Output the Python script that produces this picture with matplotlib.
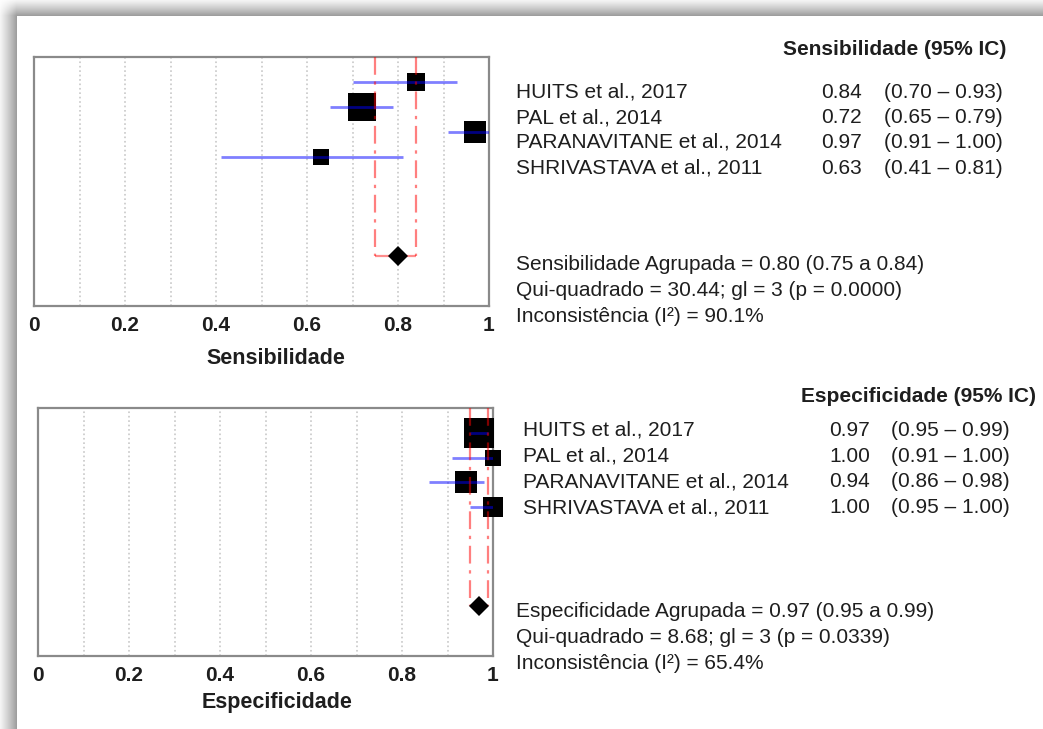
import numpy as np
import matplotlib
matplotlib.use('Agg')
import matplotlib.pyplot as plt

plt.rcParams['font.family'] = ['Liberation Sans', 'DejaVu Sans']

W, H = 1043, 729

estudos = ['HUITS et al., 2017', 'PAL et al., 2014',
           'PARANAVITANE et al., 2014', 'SHRIVASTAVA et al., 2011']

# sensibilidade por estudo (IC 95%) e tamanho relativo do quadrado (peso)
sens = [0.84, 0.72, 0.97, 0.63]
sens_lo = [0.70, 0.65, 0.91, 0.41]
sens_hi = [0.93, 0.79, 1.00, 0.81]
sens_peso = [19, 29, 23, 17]
sens_pool, sens_pool_lo, sens_pool_hi = 0.80, 0.75, 0.84
sens_chi, sens_gl, sens_p, sens_i2 = 30.44, 3, 0.0000, 90.1

# especificidade por estudo
espec = [0.97, 1.00, 0.94, 1.00]
espec_lo = [0.95, 0.91, 0.86, 0.95]
espec_hi = [0.99, 1.00, 0.98, 1.00]
espec_peso = [30, 17, 22, 21]
espec_pool, espec_pool_lo, espec_pool_hi = 0.97, 0.95, 0.99
espec_chi, espec_gl, espec_p, espec_i2 = 8.68, 3, 0.0339, 65.4

xticks = [0, 0.2, 0.4, 0.6, 0.8, 1]
xticklabels = ['0', '0.2', '0.4', '0.6', '0.8', '1']

TXT = '#1e1e1e'
FS = 15


def fx(px):
    return px / W


def fy(py):
    return 1 - py / H


fig = plt.figure(figsize=(W / 100, H / 100), dpi=100)

# sombra cinza da moldura (esquerda e topo)
xx = np.arange(W)[None, :]
yy = np.arange(H)[:, None]
cx = np.clip((xx + 3) / 19.0, 0, 1) ** 1.2
cy = np.clip((yy + 3) / 18.0, 0, 1) ** 1.2
dark = 0.38 * cx * cy
pagina = (xx >= 17) & (yy >= 16)
g = np.where(pagina, 1.0, 1 - dark)
img = np.dstack([g, g, g])
fig.figimage(img, xo=0, yo=0, origin='upper', zorder=-10)


def forest(rect, est, lo, hi, peso, pool, plo, phi, xlabel, lab_xy):
    ax = fig.add_axes(rect)
    ax.set_facecolor('white')
    rows = np.arange(len(est))
    ax.set_xlim(0, 1)
    ax.set_ylim(9, -1)
    ax.set_xticks(xticks)
    ax.set_xticklabels(xticklabels, fontsize=FS, fontweight='bold', color=TXT)
    ax.set_xticks(np.arange(0.1, 1.0, 0.1), minor=True)
    ax.set_yticks([])
    ax.tick_params(axis='x', which='both', length=0, pad=7)
    ax.grid(axis='x', which='both', ls=':', color='#c8c8c8', lw=1.2, zorder=0)
    for s in ax.spines.values():
        s.set_color('#8a8a8a')
        s.set_linewidth(1.6)

    for r, e, p in zip(rows, est, peso):
        ax.plot(e, r, marker='s', color='black', ms=p / 1.389, mew=0,
                ls='none', zorder=3, clip_on=False)
    ax.hlines(rows, lo, hi, color='blue', alpha=0.5, lw=2, zorder=4)

    # IC do resultado agrupado
    yp = 7
    ax.vlines([plo, phi], -1, yp, color='red', alpha=0.5, lw=1.6,
              linestyles=(0, (8, 3, 1.5, 3)), zorder=5)
    ax.hlines(yp, plo, phi, color='red', alpha=0.45, lw=1.6, zorder=5)
    ax.plot(pool, yp, marker='D', color='black', ms=10, mew=0, zorder=6)

    ax.set_xlabel(xlabel, fontsize=FS + 0.5, fontweight='bold', color=TXT)
    ax.xaxis.set_label_coords(*lab_xy)
    return ax


forest([fx(34), fy(306), fx(489) - fx(34), fy(57) - fy(306)],
       sens, sens_lo, sens_hi, sens_peso,
       sens_pool, sens_pool_lo, sens_pool_hi, 'Sensibilidade', (0.532, -0.17))
forest([fx(38), fy(656), fx(493) - fx(38), fy(408) - fy(656)],
       espec, espec_lo, espec_hi, espec_peso,
       espec_pool, espec_pool_lo, espec_pool_hi, 'Especificidade', (0.525, -0.145))


def tabela(titulo, x_tit, y_tit, x_nome, y_rows, x_val, x_ic,
           est, lo, hi, resumo, x_res, y_res):
    fig.text(fx(x_tit), fy(y_tit), titulo, ha='right', va='baseline',
             fontsize=FS, fontweight='bold', color=TXT)
    for i, nome in enumerate(estudos):
        y = fy(y_rows[i])
        fig.text(fx(x_nome), y, nome, ha='left', va='baseline',
                 fontsize=FS, color=TXT)
        fig.text(fx(x_val), y, f'{est[i]:.2f}', ha='right', va='baseline',
                 fontsize=FS, color=TXT)
        fig.text(fx(x_ic), y, f'({lo[i]:.2f} – {hi[i]:.2f})', ha='right',
                 va='baseline', fontsize=FS, color=TXT)
    for j, linha in enumerate(resumo):
        fig.text(fx(x_res), fy(y_res[j]), linha, ha='left', va='baseline',
                 fontsize=FS, color=TXT)


tabela('Sensibilidade (95% IC)', 1006, 55, 516, [98, 123, 148, 174],
       862, 1003, sens, sens_lo, sens_hi,
       [f'Sensibilidade Agrupada = {sens_pool:.2f} ({sens_pool_lo:.2f} a {sens_pool_hi:.2f})',
        f'Qui-quadrado = {sens_chi:.2f}; gl = {sens_gl} (p = {sens_p:.4f})',
        f'Inconsistência (I²) = {sens_i2:.1f}%'],
       516, [270, 296, 322])

tabela('Especificidade (95% IC)', 1036, 402, 523, [436, 462, 487, 513],
       870, 1010, espec, espec_lo, espec_hi,
       [f'Especificidade Agrupada = {espec_pool:.2f} ({espec_pool_lo:.2f} a {espec_pool_hi:.2f})',
        f'Qui-quadrado = {espec_chi:.2f}; gl = {espec_gl} (p = {espec_p:.4f})',
        f'Inconsistência (I²) = {espec_i2:.1f}%'],
       516, [617, 643, 669])

fig.savefig('out.png', dpi=100)
